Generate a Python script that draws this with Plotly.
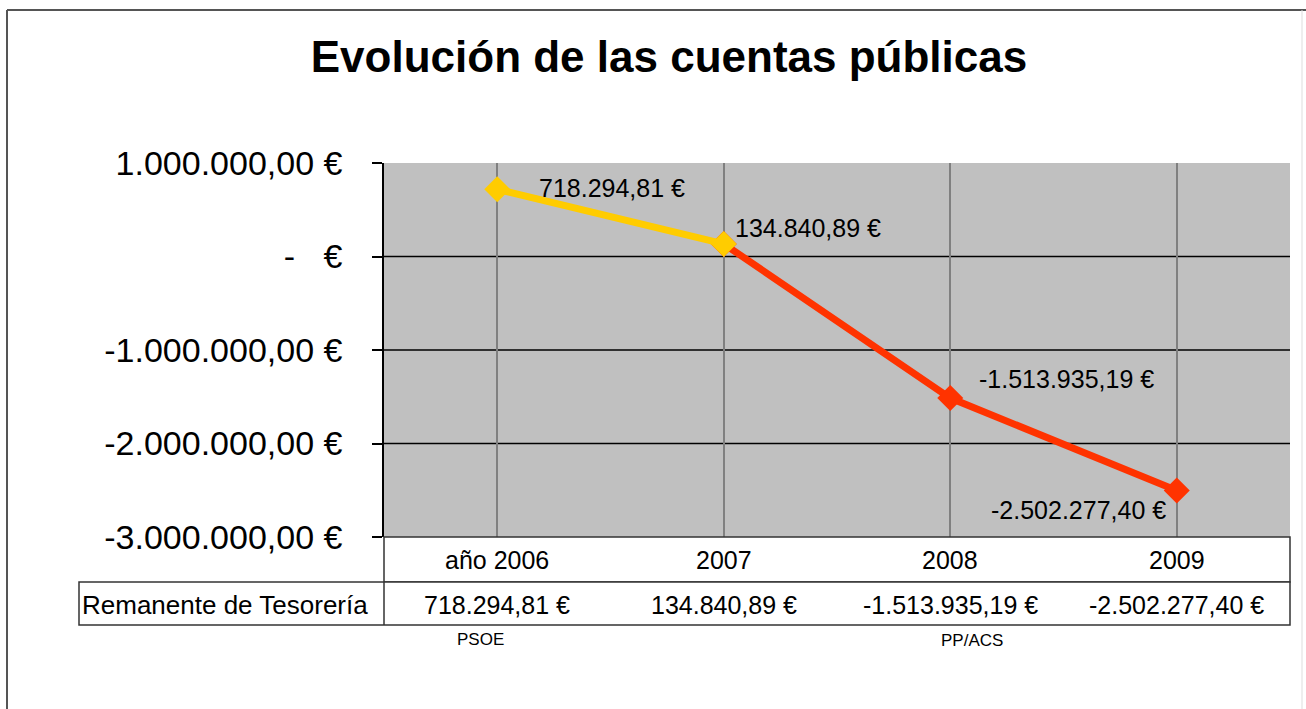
import plotly.graph_objects as go

# ---------------- data ----------------
YEARS = ["año 2006", "2007", "2008", "2009"]
VALUES = [718294.81, 134840.89, -1513935.19, -2502277.40]
SERIES_NAME = "Remanente de Tesorería"
Y_TICKS = [1000000, 0, -1000000, -2000000, -3000000]
Y_TICK_TEXT = ["1.000.000,00 €", "-\u00a0\u00a0 €", "-1.000.000,00 €",
               "-2.000.000,00 €", "-3.000.000,00 €"]
PARTIES = ["PSOE", "PP/ACS"]
TITLE = "Evolución de las cuentas públicas"

W, H = 1306, 709
FONT = "Liberation Sans, Arial, sans-serif"

# plot area in pixels
PL, PR, PT, PB = 384, 1290, 163, 537


def fx(px):
    return px / W


def fy(py):
    return 1 - py / H


def fmt(v):
    s = f"{abs(v):,.2f}"  # 718,294.81
    s = s.replace(",", "X").replace(".", ",").replace("X", ".")
    return ("-" if v < 0 else "") + s + " €"


xs = list(range(len(YEARS)))

fig = go.Figure()

# red segment (2007 -> 2009)
fig.add_trace(go.Scatter(
    x=xs[1:], y=VALUES[1:], mode="lines+markers",
    line=dict(color="#FF3300", width=7),
    marker=dict(symbol="diamond", size=20, color="#FF3300"),
    hoverinfo="skip", showlegend=False))
# yellow segment (2006 -> 2007)
fig.add_trace(go.Scatter(
    x=xs[:2], y=VALUES[:2], mode="lines+markers",
    line=dict(color="#FFCC00", width=7),
    marker=dict(symbol="diamond", size=20, color="#FFCC00"),
    hoverinfo="skip", showlegend=False))

shapes = []
# horizontal black gridlines (inner ticks only)
for v in Y_TICKS[1:-1]:
    shapes.append(dict(type="line", xref="x domain", x0=0, x1=1, yref="y", y0=v, y1=v,
                       line=dict(color="black", width=1.5), layer="below"))

# data table
shapes.append(dict(type="rect", xref="paper", yref="paper",
                   x0=fx(PL), x1=fx(PR), y0=fy(582), y1=fy(PB),
                   line=dict(color="#333333", width=1.5), fillcolor="white", layer="above"))
shapes.append(dict(type="rect", xref="paper", yref="paper",
                   x0=fx(79), x1=fx(PR), y0=fy(625), y1=fy(582),
                   line=dict(color="#333333", width=1.5), fillcolor="white", layer="above"))
shapes.append(dict(type="line", xref="paper", yref="paper",
                   x0=fx(PL), x1=fx(PL), y0=fy(625), y1=fy(582),
                   line=dict(color="#333333", width=1.5), layer="above"))

# outer frame
shapes.append(dict(type="line", xref="paper", yref="paper", x0=fx(7), x1=fx(7), y0=0, y1=fy(10),
                   line=dict(color="#555555", width=2)))
shapes.append(dict(type="line", xref="paper", yref="paper", x0=fx(7), x1=1, y0=fy(10), y1=fy(10),
                   line=dict(color="#555555", width=2)))
shapes.append(dict(type="line", xref="paper", yref="paper", x0=fx(1302), x1=fx(1302), y0=0, y1=fy(10),
                   line=dict(color="#dddddd", width=1)))

annotations = []
# data labels
label_pos = [
    dict(xanchor="left", xshift=40, yshift=1),
    dict(xanchor="left", xshift=9, yshift=16),
    dict(xanchor="left", xshift=27, yshift=19),
    dict(xanchor="right", xshift=-9, yshift=-20),
]
for i, v in enumerate(VALUES):
    annotations.append(dict(x=xs[i], y=v, xref="x", yref="y", text=fmt(v), showarrow=False,
                            yanchor="middle", font=dict(family=FONT, size=25, color="black"),
                            **label_pos[i]))

# table: category row and value row
for i, cat in enumerate(YEARS):
    annotations.append(dict(x=xs[i], y=fy(560), xref="x", yref="paper", text=cat,
                            showarrow=False, xanchor="center", yanchor="middle",
                            font=dict(family=FONT, size=25, color="black")))
    annotations.append(dict(x=xs[i], y=fy(605), xref="x", yref="paper", text=fmt(VALUES[i]),
                            showarrow=False, xanchor="center", yanchor="middle",
                            font=dict(family=FONT, size=25, color="black")))
annotations.append(dict(x=fx(80), y=fy(605), xref="paper", yref="paper", text=SERIES_NAME,
                        showarrow=False, xanchor="left", yanchor="middle",
                        font=dict(family=FONT, size=26, color="black")))

# party labels
annotations.append(dict(x=fx(480), y=fy(639), xref="paper", yref="paper", text=PARTIES[0],
                        showarrow=False, xanchor="center", yanchor="middle",
                        font=dict(family=FONT, size=17, color="black")))
annotations.append(dict(x=fx(972), y=fy(640), xref="paper", yref="paper", text=PARTIES[1],
                        showarrow=False, xanchor="center", yanchor="middle",
                        font=dict(family=FONT, size=17, color="black")))

fig.update_layout(
    width=W, height=H,
    margin=dict(l=0, r=0, t=0, b=0, autoexpand=False),
    paper_bgcolor="white",
    plot_bgcolor="#C0C0C0",
    title=dict(text="<b>" + TITLE + "</b>", x=669 / W, y=fy(57), xanchor="center",
               yanchor="middle", xref="paper", yref="container",
               font=dict(family=FONT, size=44, color="black")),
    xaxis=dict(domain=[fx(PL), fx(PR)], range=[-0.5, len(YEARS) - 0.5],
               tickvals=xs, showticklabels=False, ticks="",
               showgrid=True, gridcolor="#808080", gridwidth=1.5,
               zeroline=False, showline=False, fixedrange=True, automargin=False),
    yaxis=dict(domain=[fy(PB), fy(PT)], range=[Y_TICKS[-1], Y_TICKS[0]],
               tickvals=Y_TICKS, ticktext=Y_TICK_TEXT,
               tickfont=dict(family=FONT, size=34, color="black"),
               ticks="outside", ticklen=10, tickcolor="black", tickwidth=1.5,
               ticklabelstandoff=23,
               showline=True, linecolor="black", linewidth=1.5,
               showgrid=False, zeroline=False, fixedrange=True, automargin=False),
    shapes=shapes,
    annotations=annotations,
    showlegend=False,
)

fig.write_html("out.html", config={"displayModeBar": False},
               post_script="document.body.style.margin='0';")
